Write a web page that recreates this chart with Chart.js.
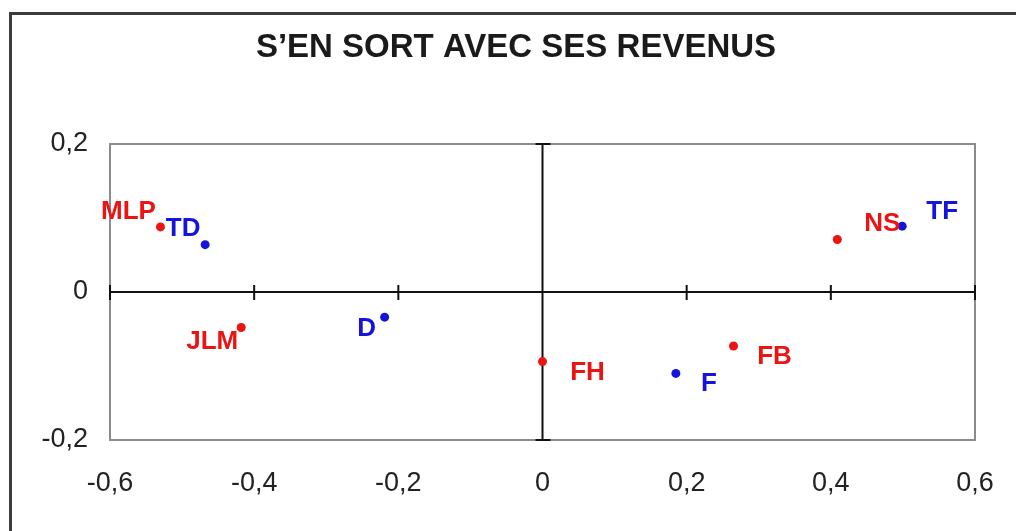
<!DOCTYPE html>
<html>
<head>
<meta charset="utf-8">
<script src="https://cdn.jsdelivr.net/npm/chart.js@4.4.1/dist/chart.umd.min.js"></script>
<style>
    html, body { margin: 0; padding: 0; background: #fff; }
    #wrap { width: 1016px; height: 531px; position: relative; }
</style>
</head>
<body>
<div id="wrap"><canvas id="chart"></canvas></div>
<script>
// Chart data
const chartTitle = 'S\u2019EN SORT AVEC SES REVENUS';

const redNames = ['MLP', 'JLM', 'FH', 'FB', 'NS'];
const redX = [-0.53, -0.418, 0.0, 0.265, 0.409];
const redY = [0.088, -0.048, -0.094, -0.073, 0.071];

const blueNames = ['TD', 'D', 'F', 'TF'];
const blueX = [-0.468, -0.219, 0.185, 0.499];
const blueY = [0.064, -0.034, -0.110, 0.089];

const xTicks = [-0.6, -0.4, -0.2, 0, 0.2, 0.4, 0.6];
const yTicks = [-0.2, 0, 0.2];

// Where each name sits relative to its point (pixels)
const labelOffsets = {
    MLP: [-32, -15], TD: [-22, -16], JLM: [-29, 14], D: [-18, 12],
    FH: [45, 11], F: [33, 10], FB: [41, 11], NS: [45, -16], TF: [40, -14]
};

const RED = '#ec1313';
const BLUE = '#1414dc';
const FONT = "'Liberation Sans', Arial, sans-serif";

function toPoints(xs, ys) {
    return xs.map((x, i) => ({ x: x, y: ys[i] }));
}

function fmt(v) {
    return String(Math.round(v * 10) / 10).replace('.', ',');
}

// Frame, title, zero axes and point names
const decorPlugin = {
    id: 'decor',
    beforeDatasetsDraw(chart) {
        const ctx = chart.ctx;
        const area = chart.chartArea;
        const xs = chart.scales.x;
        const ys = chart.scales.y;
        ctx.save();

        // outer frame
        ctx.strokeStyle = '#3c3c3c';
        ctx.lineWidth = 3;
        ctx.strokeRect(10.5, 13.5, 1040, 560);

        // title
        ctx.fillStyle = '#1a1a1a';
        ctx.font = 'bold 33px ' + FONT;
        ctx.textAlign = 'center';
        ctx.textBaseline = 'middle';
        ctx.fillText(chartTitle, 516, 48);

        // plot frame
        ctx.strokeStyle = '#8c8c8c';
        ctx.lineWidth = 2;
        ctx.strokeRect(area.left, area.top, area.right - area.left, area.bottom - area.top);

        // zero lines with cross ticks
        const x0 = xs.getPixelForValue(0);
        const y0 = ys.getPixelForValue(0);
        ctx.strokeStyle = '#111';
        ctx.lineWidth = 2;
        ctx.beginPath();
        ctx.moveTo(area.left, y0);
        ctx.lineTo(area.right, y0);
        ctx.moveTo(x0, area.top);
        ctx.lineTo(x0, area.bottom);
        xTicks.forEach(v => {
            const px = xs.getPixelForValue(v);
            ctx.moveTo(px, y0 - 7);
            ctx.lineTo(px, y0 + 8);
        });
        yTicks.forEach(v => {
            const py = ys.getPixelForValue(v);
            ctx.moveTo(x0 - 7, py);
            ctx.lineTo(x0 + 8, py);
        });
        ctx.stroke();
        ctx.restore();
    },
    afterDatasetsDraw(chart) {
        const ctx = chart.ctx;
        ctx.save();
        ctx.font = 'bold 26px ' + FONT;
        ctx.textAlign = 'center';
        ctx.textBaseline = 'middle';
        chart.data.datasets.forEach((ds, di) => {
            const meta = chart.getDatasetMeta(di);
            ctx.fillStyle = ds.textColor;
            meta.data.forEach((pt, i) => {
                const name = ds.names[i];
                const off = labelOffsets[name] || [0, 0];
                ctx.fillText(name, pt.x + off[0], pt.y + off[1]);
            });
        });
        ctx.restore();
    }
};

const config = {
    type: 'scatter',
    data: {
        datasets: [{
            label: 'rouge',
            names: redNames,
            textColor: RED,
            data: toPoints(redX, redY),
            backgroundColor: RED,
            borderColor: RED,
            pointRadius: 4.5,
            pointBorderWidth: 0
        }, {
            label: 'bleu',
            names: blueNames,
            textColor: BLUE,
            data: toPoints(blueX, blueY),
            backgroundColor: BLUE,
            borderColor: BLUE,
            pointRadius: 4.5,
            pointBorderWidth: 0
        }]
    },
    options: {
        responsive: true,
        maintainAspectRatio: false,
        animation: false,
        layout: {
            padding: { top: 144, right: 41, bottom: 0, left: 0 }
        },
        plugins: {
            legend: { display: false },
            tooltip: { enabled: false },
            title: { display: false }
        },
        scales: {
            x: {
                type: 'linear',
                min: -0.6,
                max: 0.6,
                grid: { display: false, drawTicks: false },
                border: { display: false },
                afterBuildTicks: function(scale) {
                    scale.ticks = xTicks.map(v => ({ value: v }));
                },
                afterFit: function(scale) {
                    scale.height = 91;
                    scale.paddingLeft = 0;
                    scale.paddingRight = 0;
                },
                ticks: {
                    padding: 27,
                    maxRotation: 0,
                    color: '#222',
                    font: { family: FONT, size: 27 },
                    callback: fmt
                }
            },
            y: {
                type: 'linear',
                min: -0.2,
                max: 0.2,
                grid: { display: false, drawTicks: false },
                border: { display: false },
                afterBuildTicks: function(scale) {
                    scale.ticks = yTicks.map(v => ({ value: v }));
                },
                afterFit: function(scale) {
                    scale.width = 110;
                    scale.paddingTop = 0;
                    scale.paddingBottom = 0;
                },
                ticks: {
                    padding: 22,
                    color: '#222',
                    font: { family: FONT, size: 27 },
                    callback: fmt
                }
            }
        }
    },
    plugins: [decorPlugin]
};

new Chart(document.getElementById('chart').getContext('2d'), config);
</script>
</body>
</html>
